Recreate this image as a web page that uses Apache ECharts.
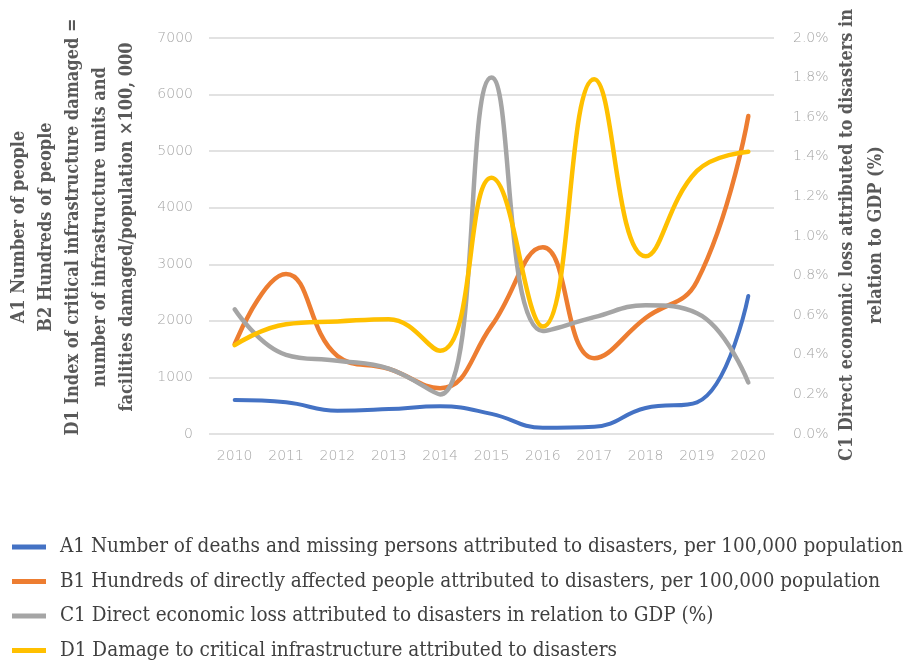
<!DOCTYPE html>
<html>
<head>
<meta charset="utf-8">
<script src="https://cdn.jsdelivr.net/npm/echarts@6/dist/echarts.min.js"></script>
<style>
html,body{margin:0;padding:0;background:#fff;}
#chart{width:907px;height:660px;}
</style>
</head>
<body>
<div id="chart"></div>
<script>
var years = ['2010','2011','2012','2013','2014','2015','2016','2017','2018','2019','2020'];
var a1Deaths = [600, 560, 410, 440, 490, 355, 110, 130, 460, 560, 2440];
var b1Affected = [1590, 2830, 1380, 1150, 810, 1910, 3300, 1340, 2050, 2700, 5620];
var c1EconomicLossPct = [0.63, 0.40, 0.37, 0.33, 0.20, 1.80, 0.52, 0.59, 0.65, 0.61, 0.26];
var d1Infrastructure = [1570, 1940, 1990, 2030, 1470, 4530, 1900, 6270, 3140, 4650, 4990];

var seriesNames = [
  'A1 Number of deaths and missing persons attributed to disasters, per 100,000 population',
  'B1 Hundreds of directly affected people attributed to disasters, per 100,000 population',
  'C1 Direct economic loss attributed to disasters in relation to GDP (%)',
  'D1 Damage to critical infrastructure attributed to disasters'
];
var leftTitle = 'A1 Number of people\nB2 Hundreds of people\nD1 Index of critical infrastructure damaged =\nnumber of infrastructure units and\nfacilities damaged/population \u00d7100, 000';
var rightTitle = 'C1 Direct economic loss attributed to disasters in\nrelation to GDP (%)';

var colors = ['#4472C4', '#ED7D31', '#A5A5A5', '#FFC000'];
var serifFont = "'DejaVu Serif Condensed', 'Liberation Serif', serif";
var tickFont = { color: '#a6a6a6', fontFamily: 'DejaVu Sans', fontSize: 14, fontWeight: 300 };

var chart = echarts.init(document.getElementById('chart'), null, { renderer: 'canvas' });

function lineSeries(i, data, axisIdx) {
  return {
    name: seriesNames[i],
    type: 'line',
    yAxisIndex: axisIdx,
    data: data,
    smooth: 0.45,
    symbol: 'none',
    lineStyle: { color: colors[i], width: i === 0 ? 4 : 4.5, cap: 'round' },
    itemStyle: { color: colors[i] },
    z: 2 + i
  };
}

chart.setOption({
  animation: false,
  color: colors,
  grid: { left: 209, right: 133, top: 38, bottom: 226 },
  xAxis: {
    type: 'category',
    data: years,
    boundaryGap: true,
    axisLine: { show: false },
    axisTick: { show: false },
    axisLabel: Object.assign({ margin: 15 }, tickFont)
  },
  yAxis: [
    {
      type: 'value', min: 0, max: 7000, interval: 1000,
      axisLine: { show: false }, axisTick: { show: false },
      axisLabel: Object.assign({ margin: 16, formatter: function (v) { return String(v); } }, tickFont),
      splitLine: { lineStyle: { color: '#d9d9d9', width: 1.5 } }
    },
    {
      type: 'value', min: 0, max: 2.0, interval: 0.2, position: 'right',
      axisLine: { show: false }, axisTick: { show: false },
      axisLabel: Object.assign({ margin: 19, formatter: function (v) { return v.toFixed(1) + '%'; } }, tickFont),
      splitLine: { show: false }
    }
  ],
  legend: {
    orient: 'vertical',
    left: 12,
    top: 536,
    height: 200,
    padding: 0,
    itemWidth: 34,
    itemHeight: 5,
    itemGap: 12.5,
    icon: 'rect',
    textStyle: { color: '#404040', fontFamily: serifFont, fontSize: 20.5, lineHeight: 22, padding: [0, 0, 0, 9] },
    data: seriesNames
  },
  graphic: [
    {
      type: 'text', x: 73, y: 227, rotation: Math.PI / 2,
      style: { text: leftTitle, fill: '#595959', font: "bold 18px " + serifFont, lineHeight: 27, align: 'center', verticalAlign: 'middle' }
    },
    {
      type: 'text', x: 862, y: 235, rotation: Math.PI / 2,
      style: { text: rightTitle, fill: '#595959', font: "bold 18px " + serifFont, lineHeight: 29, align: 'center', verticalAlign: 'middle' }
    }
  ],
  series: [
    lineSeries(0, a1Deaths, 0),
    lineSeries(1, b1Affected, 0),
    lineSeries(2, c1EconomicLossPct, 1),
    lineSeries(3, d1Infrastructure, 0)
  ]
});
</script>
</body>
</html>
